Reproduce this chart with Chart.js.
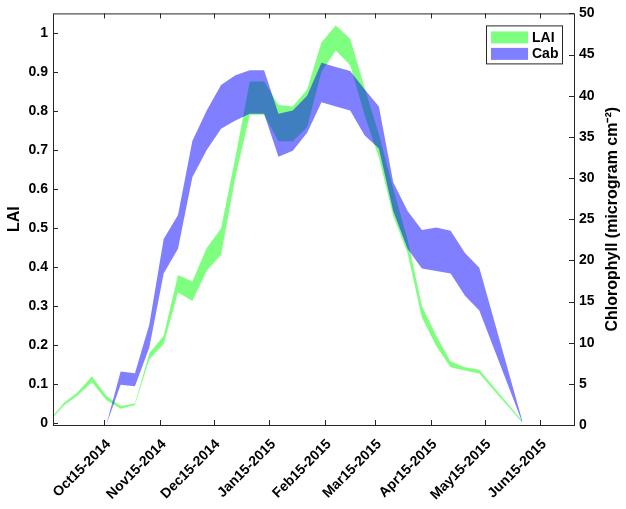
<!DOCTYPE html>
<html>
<head>
<meta charset="utf-8">
<script src="https://cdn.jsdelivr.net/npm/chart.js@4.4.0/dist/chart.umd.min.js"></script>
<style>
  body { margin: 0; background: #fff; }
</style>
</head>
<body>
<canvas id="bands" width="626" height="509"></canvas>
<script>
// 8-day composite dates
const dates = [
    '2014-09-14', '2014-09-22', '2014-09-30', '2014-10-08', '2014-10-16', '2014-10-24',
    '2014-11-01', '2014-11-09', '2014-11-17', '2014-11-25', '2014-12-03', '2014-12-11',
    '2014-12-19', '2014-12-27', '2015-01-04', '2015-01-12', '2015-01-20', '2015-01-28',
    '2015-02-05', '2015-02-13', '2015-02-21', '2015-03-01', '2015-03-09', '2015-03-17',
    '2015-03-25', '2015-04-02', '2015-04-10', '2015-04-18', '2015-04-26', '2015-05-04',
    '2015-05-12', '2015-05-20', '2015-05-28', '2015-06-05'
]

// LAI band (upper / lower)
const laiHigh = [0.004, 0.049, 0.078, 0.119, 0.069, 0.043, 0.049, 0.178, 0.223, 0.379, 0.362, 0.448,
    0.498, 0.68, 0.875, 0.875, 0.815, 0.811, 0.855, 0.976, 1.019, 0.985, 0.86, 0.74,
    0.60, 0.47, 0.299, 0.223, 0.157, 0.142, 0.136, null, null, 0.004]
const laiLow = [0.0, 0.043, 0.070, 0.104, 0.058, 0.036, 0.045, 0.163, 0.202, 0.334, 0.312, 0.39,
    0.431, 0.63, 0.79, 0.79, 0.722, 0.722, 0.758, 0.90, 0.955, 0.917, 0.79, 0.68,
    0.53, 0.435, 0.269, 0.197, 0.142, 0.134, 0.126, null, null, 0.0]

// Cab band (upper / lower), microgram cm-2
const cabHigh = [null, null, null, null, 0, 6.5, 6.3, 12.2, 22.6, 25.5, 34.5, 38.2,
    41.3, 42.5, 43.1, 43.1, 37.8, 38.2, 40.0, 44.0, 43.5, 43.0, 40.8, 38.7,
    29.5, 26.0, 23.7, 24.0, 23.6, 20.9, 19.1, null, null, 0.5]
const cabLow = [null, null, null, null, 0, 4.9, 4.7, 9.4, 18.4, 21.4, 30.1, 33.4,
    36.0, 37.0, 37.8, 37.8, 32.6, 33.3, 35.5, 39.2, 38.7, 38.2, 35.2, 33.6,
    26.0, 21.4, 19.0, 18.7, 18.4, 15.7, 13.9, null, null, 0.3]

const xTickDates = ['2014-10-15', '2014-11-15', '2014-12-15', '2015-01-15', '2015-02-15',
    '2015-03-15', '2015-04-15', '2015-05-15', '2015-06-15']
const xTickLabels = ['Oct15-2014', 'Nov15-2014', 'Dec15-2014', 'Jan15-2015', 'Feb15-2015',
    'Mar15-2015', 'Apr15-2015', 'May15-2015', 'Jun15-2015']
const laiTicks = [0, 0.1, 0.2, 0.3, 0.4, 0.5, 0.6, 0.7, 0.8, 0.9, 1]
const cabTicks = [0, 5, 10, 15, 20, 25, 30, 35, 40, 45, 50]

const laiColor = 'rgba(0, 255, 0, 0.5)'
const cabColor = 'rgba(0, 0, 255, 0.5)'
const cabTitle = 'Chlorophyll (microgram cm\u207B\u00B2)'

// days since 15 Oct 2014, used as the x value
const ORIGIN = Date.UTC(2014, 9, 15)
function toDay(s) {
    const [y, m, d] = s.split('-').map(Number)
    return (Date.UTC(y, m - 1, d) - ORIGIN) / 86400000
}

function points(values) {
    const out = []
    values.forEach((v, i) => { if (v !== null) out.push({ x: toDay(dates[i]), y: v }) })
    return out
}

function band(label, high, low, color, axis) {
    const edge = { pointRadius: 0, borderWidth: 0, borderColor: 'rgba(0,0,0,0)', yAxisID: axis }
    return [
        { ...edge, label: label + ' upper', data: points(high), fill: false },
        { ...edge, label: label, data: points(low), fill: '-1', backgroundColor: color }
    ]
}

// inward ticks, box, right title and legend, MATLAB style
const frame = {
    id: 'frame',
    afterDraw(chart) {
        const { ctx, chartArea: a, scales } = chart
        ctx.save()
        ctx.strokeStyle = '#262626'
        ctx.lineWidth = 1
        ctx.strokeRect(a.left + 0.5, a.top + 0.5, a.width, a.height)
        ctx.beginPath()
        scales.x.ticks.forEach((t) => {
            const px = Math.round(scales.x.getPixelForValue(t.value)) + 0.5
            ctx.moveTo(px, a.bottom); ctx.lineTo(px, a.bottom - 5)
            ctx.moveTo(px, a.top); ctx.lineTo(px, a.top + 5)
        })
        scales.yL.ticks.forEach((t) => {
            const py = Math.round(scales.yL.getPixelForValue(t.value)) + 0.5
            ctx.moveTo(a.left, py); ctx.lineTo(a.left + 5, py)
        })
        scales.yR.ticks.forEach((t) => {
            const py = Math.round(scales.yR.getPixelForValue(t.value)) + 0.5
            ctx.moveTo(a.right, py); ctx.lineTo(a.right - 5, py)
        })
        ctx.stroke()

        // right axis title reads bottom to top, like the left one
        ctx.fillStyle = '#000'
        ctx.font = 'bold 16px "Liberation Sans", Arial, sans-serif'
        ctx.textAlign = 'center'
        ctx.textBaseline = 'middle'
        ctx.translate(613, (a.top + a.bottom) / 2)
        ctx.rotate(-Math.PI / 2)
        ctx.fillText(cabTitle, 0, 0)
        ctx.setTransform(1, 0, 0, 1, 0, 0)

        // legend
        const items = [{ text: 'LAI', color: laiColor }, { text: 'Cab', color: cabColor }]
        const w = 76, h = 38
        const bx = a.right - 12 - w, by = a.top + 12
        ctx.fillStyle = '#fff'
        ctx.fillRect(bx, by, w, h)
        ctx.strokeRect(bx + 0.5, by + 0.5, w, h)
        ctx.font = 'bold 14px "Liberation Sans", Arial, sans-serif'
        ctx.textAlign = 'left'
        items.forEach((it, i) => {
            const y = by + 6 + i * 16.5
            ctx.fillStyle = it.color
            ctx.fillRect(bx + 5, y, 37, 12)
            ctx.fillStyle = '#000'
            ctx.fillText(it.text, bx + 46, y + 6.5)
        })
        ctx.restore()
    }
}

Chart.defaults.font.family = '"Liberation Sans", Arial, sans-serif'
Chart.defaults.font.size = 14
Chart.defaults.font.weight = 'bold'
Chart.defaults.color = '#000'

const noGrid = { display: false, drawTicks: false }

new Chart(document.getElementById('bands'), {
    type: 'line',
    data: {
        datasets: [
            ...band('Cab', cabHigh, cabLow, cabColor, 'yR'),
            ...band('LAI', laiHigh, laiLow, laiColor, 'yL')
        ]
    },
    options: {
        responsive: false,
        animation: false,
        layout: { padding: { top: 9 } },
        plugins: {
            legend: { display: false },
            tooltip: { enabled: false },
            filler: { propagate: false }
        },
        scales: {
            x: {
                type: 'linear',
                min: -28.7,
                max: 261.8,
                grid: noGrid,
                border: { display: false },
                afterBuildTicks: (s) => { s.ticks = xTickDates.map((d) => ({ value: toDay(d) })) },
                afterFit: (s) => { s.height = 84 },
                ticks: {
                    autoSkip: false,
                    minRotation: 45,
                    maxRotation: 45,
                    padding: 11,
                    labelOffset: 4,
                    callback: (v, i) => xTickLabels[i]
                }
            },
            yL: {
                type: 'linear',
                position: 'left',
                min: -0.006,
                max: 1.05,
                grid: noGrid,
                border: { display: false },
                afterBuildTicks: (s) => { s.ticks = laiTicks.map((v) => ({ value: v })) },
                afterFit: (s) => { s.width = 53 },
                ticks: { padding: 5, callback: (v) => String(v) },
                title: { display: true, text: 'LAI', font: { size: 16, weight: 'bold' }, padding: { top: 5, bottom: 0 } }
            },
            yR: {
                type: 'linear',
                position: 'right',
                min: 0,
                max: 50,
                grid: noGrid,
                border: { display: false },
                afterBuildTicks: (s) => { s.ticks = cabTicks.map((v) => ({ value: v })) },
                afterFit: (s) => { s.width = 52 },
                ticks: { padding: 5, callback: (v) => String(v) }
            }
        }
    },
    plugins: [frame]
})
</script>
</body>
</html>
